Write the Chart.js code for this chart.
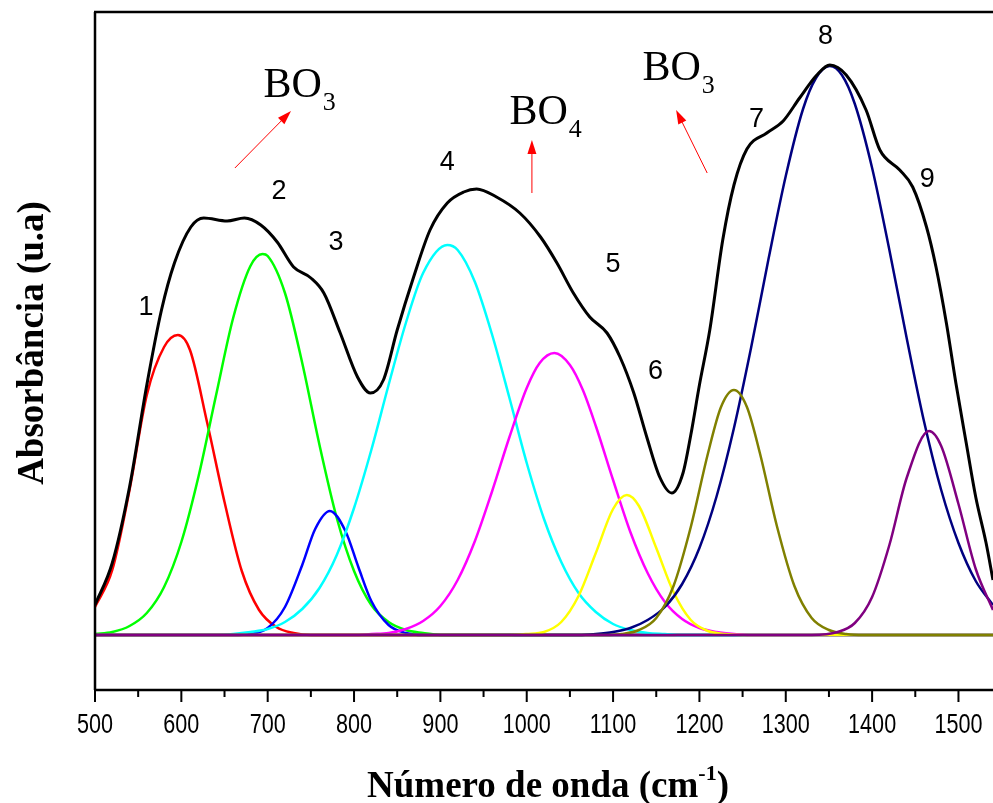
<!DOCTYPE html>
<html>
<head>
<meta charset="utf-8">
<script src="https://cdn.jsdelivr.net/npm/chart.js@4.4.1/dist/chart.umd.min.js"></script>
<style>
    html, body { margin: 0; padding: 0; background: #fff; }
</style>
</head>
<body>
<canvas id="ftir-chart" width="993" height="803"></canvas>
<script>
// x axis ticks (cm-1)
const wavenumberTicks = [500, 600, 700, 800, 900, 1000, 1100, 1200, 1300, 1400, 1500];

// measured spectrum (black)
const spectrumX = [500, 520, 540, 560, 577, 592, 611, 626, 653, 673, 692, 711, 730, 750, 765, 784, 804, 819, 834, 850, 869, 888, 908, 927, 942, 965, 992, 1016, 1035, 1054, 1073, 1093, 1108, 1124, 1139, 1154, 1168, 1181, 1190, 1200, 1212, 1227, 1240, 1255, 1278, 1297, 1316, 1336, 1351, 1370, 1393, 1409, 1432, 1447, 1463, 1474, 1486, 1497, 1509, 1520, 1532, 1540];
const spectrumY = [0.30, 0.72, 1.48, 2.50, 3.25, 3.72, 4.08, 4.17, 4.14, 4.17, 4.10, 3.93, 3.68, 3.57, 3.42, 3.02, 2.58, 2.42, 2.55, 3.05, 3.58, 4.05, 4.32, 4.43, 4.46, 4.38, 4.22, 3.98, 3.72, 3.42, 3.18, 3.02, 2.78, 2.42, 1.98, 1.58, 1.42, 1.62, 2.00, 2.50, 3.05, 3.95, 4.50, 4.86, 5.02, 5.14, 5.37, 5.60, 5.70, 5.60, 5.25, 4.85, 4.65, 4.48, 4.08, 3.68, 3.12, 2.52, 1.92, 1.38, 0.92, 0.55];

// deconvoluted bands 1..9
const band1X = [500, 520, 540, 560, 580, 596, 610, 630, 650, 670, 690, 710, 730, 750, 1540];
const band1Y = [0.28, 0.65, 1.45, 2.40, 2.88, 3.00, 2.85, 2.12, 1.33, 0.64, 0.25, 0.08, 0.02, 0, 0];

const band2X = [500, 520, 540, 560, 580, 600, 620, 640, 660, 680, 694, 700, 720, 740, 760, 780, 800, 820, 840, 860, 880, 900, 1540];
const band2Y = [0.01, 0.03, 0.09, 0.22, 0.48, 0.93, 1.59, 2.39, 3.17, 3.69, 3.81, 3.79, 3.42, 2.72, 1.90, 1.17, 0.64, 0.30, 0.13, 0.05, 0.02, 0, 0];

const band3X = [500, 660, 680, 700, 720, 740, 755, 772, 790, 805, 820, 840, 860, 880, 1540];
const band3Y = [0, 0, 0.01, 0.07, 0.28, 0.70, 1.06, 1.24, 1.04, 0.68, 0.34, 0.10, 0.02, 0, 0];

const band4X = [500, 640, 660, 680, 700, 720, 740, 760, 780, 800, 820, 840, 860, 880, 908, 920, 940, 960, 980, 1000, 1020, 1040, 1060, 1080, 1100, 1120, 1140, 1160, 1180, 1540];
const band4Y = [0, 0, 0.01, 0.03, 0.06, 0.13, 0.26, 0.47, 0.80, 1.27, 1.85, 2.50, 3.12, 3.62, 3.90, 3.85, 3.53, 3.00, 2.37, 1.72, 1.16, 0.73, 0.42, 0.23, 0.11, 0.05, 0.02, 0.01, 0, 0];

const band5X = [500, 800, 820, 840, 860, 880, 900, 920, 940, 960, 980, 1000, 1015, 1032, 1050, 1065, 1080, 1100, 1120, 1140, 1160, 1180, 1200, 1220, 1240, 1260, 1540];
const band5Y = [0, 0, 0.01, 0.02, 0.06, 0.14, 0.29, 0.55, 0.94, 1.44, 1.98, 2.47, 2.72, 2.82, 2.70, 2.45, 2.09, 1.55, 1.03, 0.62, 0.33, 0.16, 0.07, 0.03, 0.01, 0, 0];

const band6X = [500, 980, 1000, 1020, 1040, 1060, 1080, 1100, 1116, 1130, 1150, 1170, 1190, 1210, 1230, 1250, 1540];
const band6Y = [0, 0, 0.01, 0.03, 0.13, 0.39, 0.82, 1.26, 1.40, 1.29, 0.87, 0.43, 0.15, 0.04, 0.01, 0, 0];

const band7X = [500, 1090, 1110, 1130, 1150, 1170, 1190, 1210, 1225, 1240, 1255, 1270, 1290, 1310, 1330, 1350, 1370, 1390, 1540];
const band7Y = [0, 0, 0.01, 0.05, 0.17, 0.49, 1.08, 1.82, 2.28, 2.45, 2.28, 1.82, 1.08, 0.49, 0.17, 0.05, 0.01, 0, 0];

const band8X = [500, 1060, 1080, 1100, 1120, 1140, 1160, 1180, 1200, 1220, 1240, 1260, 1280, 1300, 1320, 1335, 1351, 1365, 1380, 1400, 1420, 1440, 1460, 1480, 1500, 1520, 1540];
const band8Y = [0, 0, 0.01, 0.03, 0.07, 0.15, 0.28, 0.51, 0.87, 1.39, 2.07, 2.88, 3.76, 4.59, 5.26, 5.57, 5.69, 5.60, 5.31, 4.67, 3.85, 2.97, 2.14, 1.45, 0.92, 0.54, 0.30];

const band9X = [500, 1330, 1360, 1380, 1400, 1420, 1440, 1466, 1480, 1500, 1520, 1540];
const band9Y = [0, 0, 0.03, 0.12, 0.38, 0.90, 1.57, 2.04, 1.89, 1.31, 0.66, 0.25];

// band numbers written on the plot
const peakLabels = ['1', '2', '3', '4', '5', '6', '7', '8', '9'];
const peakLabelX = [559, 713, 779, 908, 1100, 1149, 1266, 1346, 1464];
const peakLabelY = [3.27, 4.43, 3.92, 4.72, 3.70, 2.63, 5.15, 5.98, 4.55];

// BO3 / BO4 annotations with arrows
const groupNames = ['BO', 'BO', 'BO'];
const groupSubs = ['3', '4', '3'];
const groupX = [695, 980, 1134];
const groupY = [5.38, 5.11, 5.55];
const arrowFrom = [[662, 4.67], [1006, 4.42], [1209, 4.62]];
const arrowTo = [[727, 5.24], [1006, 4.95], [1173, 5.25]];

const toPoints = (xs, ys) => xs.map((x, i) => ({ x: x, y: ys[i] }));

const makeLine = (label, xs, ys, color, width) => ({
    label: label,
    data: toPoints(xs, ys),
    borderColor: color,
    borderWidth: width,
    pointRadius: 0,
    fill: false,
    cubicInterpolationMode: 'monotone'
});

const decorPlugin = {
    id: 'decor',
    afterDatasetsDraw(chart) {
        const ctx = chart.ctx;
        const a = chart.chartArea;
        const xs = chart.scales.x;
        const ys = chart.scales.y;
        ctx.save();

        // frame: left, top, bottom
        ctx.strokeStyle = '#000';
        ctx.lineWidth = 2.5;
        ctx.beginPath();
        ctx.moveTo(a.left, a.top);
        ctx.lineTo(a.left, a.bottom);
        ctx.moveTo(a.left - 1, a.top);
        ctx.lineTo(chart.width, a.top);
        ctx.moveTo(a.left - 1, a.bottom);
        ctx.lineTo(chart.width, a.bottom);
        ctx.stroke();

        // major and minor ticks, pointing down
        ctx.lineWidth = 2;
        ctx.beginPath();
        wavenumberTicks.forEach(v => {
            const px = xs.getPixelForValue(v);
            ctx.moveTo(px, a.bottom);
            ctx.lineTo(px, a.bottom + 12);
            const pm = xs.getPixelForValue(v + 50);
            if (pm <= a.right) {
                ctx.moveTo(pm, a.bottom);
                ctx.lineTo(pm, a.bottom + 7);
            }
        });
        ctx.stroke();

        // tick labels (tall, narrow digits like the original)
        ctx.fillStyle = '#000';
        ctx.font = '27px "Liberation Sans", Arial, sans-serif';
        ctx.textAlign = 'center';
        ctx.textBaseline = 'alphabetic';
        wavenumberTicks.forEach(v => {
            const px = xs.getPixelForValue(v);
            ctx.save();
            ctx.translate(px, a.bottom + 43);
            ctx.scale(0.8, 1);
            ctx.fillText(String(v), 0, 0);
            ctx.restore();
        });

        // band numbers
        ctx.font = '27px "Liberation Sans", Arial, sans-serif';
        ctx.textAlign = 'center';
        ctx.textBaseline = 'middle';
        peakLabels.forEach((t, i) => {
            ctx.fillText(t, xs.getPixelForValue(peakLabelX[i]), ys.getPixelForValue(peakLabelY[i]));
        });

        // BO groups
        ctx.textAlign = 'left';
        ctx.textBaseline = 'alphabetic';
        groupNames.forEach((t, i) => {
            const px = xs.getPixelForValue(groupX[i]);
            const py = ys.getPixelForValue(groupY[i]);
            ctx.font = '42px "Liberation Serif", "Times New Roman", serif';
            ctx.fillText(t, px, py);
            const w = ctx.measureText(t).width;
            ctx.font = '26px "Liberation Serif", "Times New Roman", serif';
            ctx.fillText(groupSubs[i], px + w + 1, py + 13);
        });

        // red arrows
        ctx.strokeStyle = '#ff0000';
        ctx.fillStyle = '#ff0000';
        ctx.lineWidth = 1;
        arrowFrom.forEach((f, i) => {
            const x0 = xs.getPixelForValue(f[0]);
            const y0 = ys.getPixelForValue(f[1]);
            const x1 = xs.getPixelForValue(arrowTo[i][0]);
            const y1 = ys.getPixelForValue(arrowTo[i][1]);
            const ang = Math.atan2(y1 - y0, x1 - x0);
            ctx.beginPath();
            ctx.moveTo(x0, y0);
            ctx.lineTo(x1 - 8 * Math.cos(ang), y1 - 8 * Math.sin(ang));
            ctx.stroke();
            ctx.beginPath();
            ctx.moveTo(x1, y1);
            ctx.lineTo(x1 - 14 * Math.cos(ang) + 4.5 * Math.sin(ang), y1 - 14 * Math.sin(ang) - 4.5 * Math.cos(ang));
            ctx.lineTo(x1 - 14 * Math.cos(ang) - 4.5 * Math.sin(ang), y1 - 14 * Math.sin(ang) + 4.5 * Math.cos(ang));
            ctx.closePath();
            ctx.fill();
        });

        // x title with superscript
        ctx.fillStyle = '#000';
        const bold = 'bold 37px "Liberation Serif", "Times New Roman", serif';
        const boldSup = 'bold 22px "Liberation Serif", "Times New Roman", serif';
        const part1 = 'Número de onda (cm';
        const sup = '-1';
        const part2 = ')';
        ctx.font = bold;
        const w1 = ctx.measureText(part1).width;
        const w3 = ctx.measureText(part2).width;
        ctx.font = boldSup;
        const w2 = ctx.measureText(sup).width;
        let tx = 548 - (w1 + w2 + w3) / 2;
        const ty = 797;
        ctx.font = bold;
        ctx.fillText(part1, tx, ty);
        tx += w1;
        ctx.font = boldSup;
        ctx.fillText(sup, tx, ty - 17);
        tx += w2;
        ctx.font = bold;
        ctx.fillText(part2, tx, ty);

        // y title
        ctx.translate(43, 343);
        ctx.rotate(-Math.PI / 2);
        ctx.textAlign = 'center';
        ctx.font = bold;
        ctx.fillText('Absorbância (u.a)', 0, 0);

        ctx.restore();
    }
};

document.addEventListener('DOMContentLoaded', function() {
    const ctx = document.getElementById('ftir-chart').getContext('2d');
    new Chart(ctx, {
        type: 'line',
        data: {
            datasets: [
                makeLine('Espectro', spectrumX, spectrumY, '#000000', 3),
                makeLine('9', band9X, band9Y, '#800080', 2.5),
                makeLine('7', band7X, band7Y, '#808000', 2.5),
                makeLine('8', band8X, band8Y, '#000080', 2.5),
                makeLine('6', band6X, band6Y, '#ffff00', 2.5),
                makeLine('5', band5X, band5Y, '#ff00ff', 2.5),
                makeLine('4', band4X, band4Y, '#00ffff', 2.5),
                makeLine('3', band3X, band3Y, '#0000ff', 2.5),
                makeLine('2', band2X, band2Y, '#00ff00', 2.5),
                makeLine('1', band1X, band1Y, '#ff0000', 2.5)
            ]
        },
        options: {
            responsive: false,
            animation: false,
            devicePixelRatio: 1,
            layout: { padding: { top: 12, right: 0, left: 0, bottom: 0 } },
            plugins: {
                legend: { display: false },
                tooltip: { enabled: false }
            },
            scales: {
                x: {
                    type: 'linear',
                    min: 500,
                    max: 1540,
                    grid: { display: false },
                    border: { display: false },
                    ticks: { display: false },
                    afterBuildTicks: scale => {
                        scale.ticks = wavenumberTicks.map(v => ({ value: v }));
                    },
                    afterFit: scale => {
                        scale.height = 113;
                        scale.paddingLeft = 0;
                        scale.paddingRight = 0;
                    }
                },
                y: {
                    min: -0.55,
                    max: 6.23,
                    grid: { display: false },
                    border: { display: false },
                    ticks: { display: false },
                    afterFit: scale => { scale.width = 95; }
                }
            }
        },
        plugins: [decorPlugin]
    });
});
</script>
</body>
</html>
